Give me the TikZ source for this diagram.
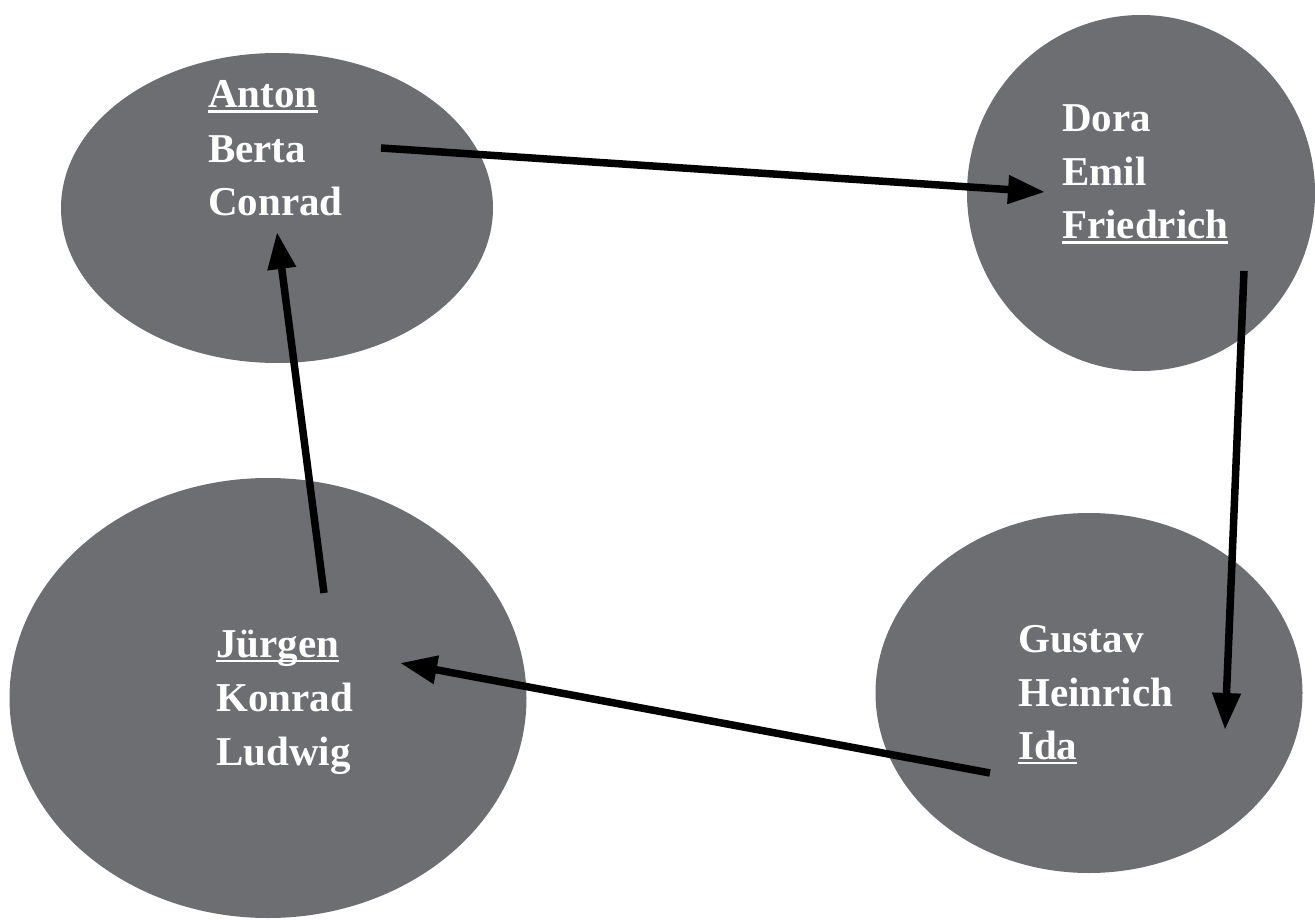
\documentclass[tikz,border=0pt]{standalone}
\usepackage{fontspec}
\setmainfont{Liberation Serif}
\usetikzlibrary{shapes.geometric,arrows.meta}
\definecolor{blobgray}{HTML}{6D6E71}
\newcommand\ulname[1]{\setbox0\hbox{#1}\rlap{\rule[-5pt]{\wd0}{2.5pt}}\box0}
\tikzset{
  blob/.style={ellipse, fill=blobgray, draw=none, inner sep=0pt},
  namelabel/.style={anchor=base west, inner sep=0pt, text=white, font=\fontsize{41}{49}\selectfont\bfseries},
  flow/.style={line width=7.5pt, black, -{Triangle[length=37pt,width=27pt]}}
}
\begin{document}
\begin{tikzpicture}[x=1pt,y=-1pt]
\useasboundingbox (0,0) rectangle (1315,920);
% ellipses
\node[blob, minimum width=432pt, minimum height=310pt] (e1) at (277,208) {};
\node[blob, minimum width=348pt, minimum height=356pt] (e2) at (1141,193) {};
\node[blob, minimum width=517pt, minimum height=440pt] (e3) at (268,698) {};
\node[blob, minimum width=427pt, minimum height=360pt] (e4) at (1089,693) {};
% names
\node[namelabel] (anton) at (208,108) {\ulname{Anton}};
\node[namelabel] (berta) at (208,163) {Berta};
\node[namelabel] (conrad) at (208,216) {Conrad};
\node[namelabel] (dora) at (1062,132) {Dora};
\node[namelabel] (emil) at (1062,186) {Emil};
\node[namelabel] (friedrich) at (1062,239) {\ulname{Friedrich}};
\node[namelabel] (juergen) at (216,657) {\ulname{Jürgen}};
\node[namelabel] (konrad) at (216,711) {Konrad};
\node[namelabel] (ludwig) at (216,765) {Ludwig};
\node[namelabel] (gustav) at (1018,652) {Gustav};
\node[namelabel] (heinrich) at (1018,706) {Heinrich};
\node[namelabel] (ida) at (1018,759) {\ulname{Ida}};
% connector ends
\coordinate (a1s) at (381,148);
\coordinate (a1e) at (1045,192);
\coordinate (a2s) at (1244,271);
\coordinate (a2e) at (1225,730);
\coordinate (a3s) at (990,773);
\coordinate (a3e) at (400,663);
\coordinate (a4s) at (324,593);
\coordinate (a4e) at (277,232);
\draw[flow] (a1s) -- (a1e);
\draw[flow] (a2s) -- (a2e);
\draw[flow] (a3s) -- (a3e);
\draw[flow] (a4s) -- (a4e);
\end{tikzpicture}
\end{document}
